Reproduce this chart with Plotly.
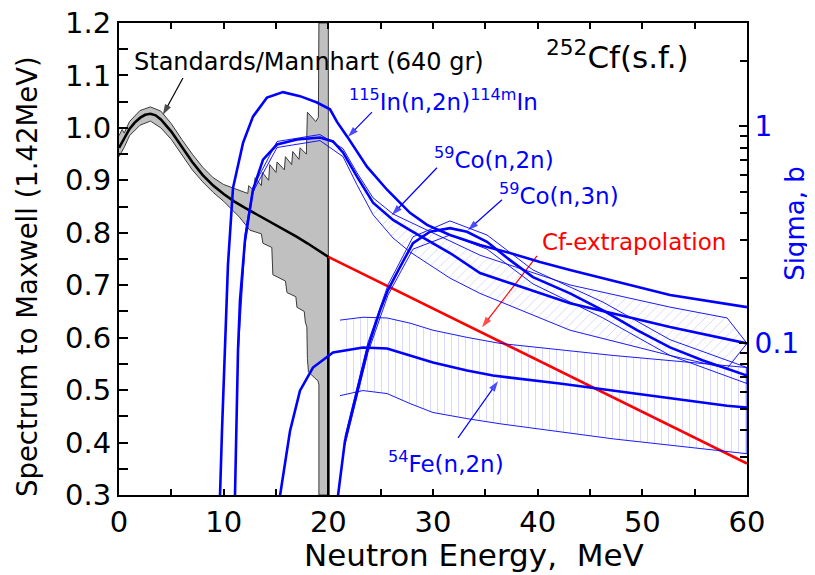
import math
import plotly.graph_objects as go

# ---------------- Spectrum / Maxwell (left axis) ----------------
spec_e = [0, 0.5, 1, 1.5, 2, 2.5, 3, 3.5, 4, 5, 6, 7, 8, 9, 10, 11, 12, 13, 14, 15, 16, 17, 18, 19, 20, 20]
spec_r = [0.962, 0.98, 0.998, 1.01, 1.019, 1.025, 1.027, 1.024, 1.016, 0.993, 0.963, 0.935, 0.91, 0.89,
          0.874, 0.86, 0.848, 0.837, 0.826, 0.815, 0.804, 0.792, 0.78, 0.767, 0.754, 0.3]

band_up_e = [0, 0.3, 0.5, 1, 2, 3, 4, 5, 6, 7, 8, 9, 10, 11, 11.5, 12.0, 12.3, 12.4, 12.9, 13.0, 13.6, 13.7,
             14.3, 14.4, 15.0, 15.1, 15.8, 15.9, 16.5, 16.6, 17.2, 17.3, 17.9, 18.0, 18.5, 18.8, 19.05, 19.1, 20]
band_up_r = [0.985, 0.997, 0.99, 1.012, 1.033, 1.04, 1.032, 1.008, 0.978, 0.95, 0.925, 0.905, 0.892, 0.885,
             0.88, 0.877, 0.875, 0.89, 0.88, 0.905, 0.89, 0.915, 0.9, 0.93, 0.915, 0.935, 0.92, 0.945, 0.93,
             0.955, 0.94, 0.962, 0.95, 1.03, 1.02, 1.012, 1.02, 1.2, 1.2]

band_lo_e = [0, 0.5, 1, 2, 3, 4, 5, 6, 7, 8, 9, 10, 10.6, 11.5, 12.5, 13.6, 13.75, 14.6, 14.7, 15.9, 16.05,
             16.9, 17.0, 17.7, 17.8, 17.95, 18.0, 18.1, 18.7, 19.0, 19.1, 19.1, 20]
band_lo_r = [0.945, 0.963, 0.985, 1.005, 1.013, 1.0, 0.978, 0.948, 0.92, 0.897, 0.877, 0.86, 0.849, 0.83,
             0.805, 0.798, 0.78, 0.772, 0.72, 0.708, 0.686, 0.678, 0.658, 0.65, 0.63, 0.62, 0.56, 0.535,
             0.523, 0.518, 0.51, 0.3, 0.3]

# Cf extrapolation
cfx_e = [20, 60]
cfx_r = [0.754, 0.36]

# ---------------- Cross sections (right axis, barn) ----------------
in_e = [9.55, 9.65, 9.84, 10.13, 10.41, 10.89, 11.85, 12.80, 14.14, 15.67, 17.29, 18.92, 20.16, 20.83, 21.79,
        23.69, 25.61, 27.80, 29.43, 31.62, 34.49, 37.36, 40.22, 43.09, 47.87, 52.64, 60]
in_s = [0.0099, 0.0198, 0.0395, 0.093, 0.23, 0.52, 0.84, 1.11, 1.36, 1.44, 1.38, 1.29, 1.20, 1.05, 0.90,
        0.653, 0.511, 0.400, 0.352, 0.316, 0.284, 0.261, 0.237, 0.218, 0.190, 0.167, 0.147]

co2_e = [10.99, 11.08, 11.27, 11.37, 11.56, 12.04, 12.80, 13.76, 15.10, 17.01, 19.20, 20.45, 21.40, 22.74,
         24.27, 26.18, 27.80, 31.62, 34.49, 43.09, 52.64, 60]
co2_s = [0.0122, 0.0198, 0.0395, 0.093, 0.158, 0.30, 0.511, 0.703, 0.826, 0.871, 0.89, 0.853, 0.759, 0.587,
         0.445, 0.371, 0.333, 0.261, 0.211, 0.153, 0.119, 0.1]
co2_band_e = [11.37, 12.04, 12.80, 15.10, 19.20, 21.40, 22.74, 24.27, 26.18, 27.80, 31.62, 34.49, 43.09,
              52.64, 58.1, 60]
co2_band_hi = [0.100, 0.32, 0.523, 0.853, 0.918, 0.791, 0.612, 0.469, 0.395, 0.363, 0.296, 0.255, 0.186,
               0.147, 0.131, 0.1]
co2_band_lo = [0.087, 0.285, 0.50, 0.80, 0.861, 0.726, 0.538, 0.392, 0.306, 0.264, 0.200, 0.170, 0.115,
               0.088, 0.0766, 0.1]

co3_e = [20.73, 20.92, 21.59, 22.74, 23.79, 24.94, 25.70, 26.85, 28.09, 29.71, 31.62, 33.25, 35.16, 37.36,
         39.55, 43.09, 46.24, 49.49, 52.64, 55.80, 60]
co3_s = [0.0122, 0.0198, 0.0356, 0.0605, 0.0958, 0.142, 0.176, 0.225, 0.290, 0.327, 0.340, 0.327, 0.294,
         0.242, 0.202, 0.170, 0.142, 0.115, 0.0958, 0.0834, 0.0711]
co3_band_e = [21.59, 23.79, 25.70, 28.09, 31.62, 35.16, 39.55, 46.24, 52.64, 60]
co3_band_hi = [0.0371, 0.101, 0.186, 0.310, 0.367, 0.316, 0.218, 0.155, 0.104, 0.0774]
co3_band_lo = [0.034, 0.0908, 0.167, 0.272, 0.316, 0.272, 0.188, 0.131, 0.088, 0.0653]

fe_e = [15.29, 15.38, 16.34, 17.29, 18.53, 19.87, 20.45, 23.31, 25.61, 27.80, 30.0, 33.25, 35.73, 42.1,
        47.2, 58.09, 60]
fe_s = [0.0122, 0.0198, 0.0395, 0.0605, 0.0774, 0.0861, 0.0908, 0.0958, 0.0948, 0.088, 0.0817, 0.075,
        0.0711, 0.0653, 0.0605, 0.0516, 0.0506]
fe_band_e = [21.11, 23.31, 25.61, 27.80, 30.0, 33.25, 36.40, 47.20, 60]
fe_band_hi = [0.128, 0.132, 0.131, 0.124, 0.115, 0.1066, 0.1, 0.088, 0.0774]
fe_band_lo = [0.0574, 0.0606, 0.0587, 0.0528, 0.048, 0.045, 0.0426, 0.0363, 0.031]

x_ticks = [0, 10, 20, 30, 40, 50, 60]
x_minor = [5, 15, 25, 35, 45, 55]
y_ticks = [0.3, 0.4, 0.5, 0.6, 0.7, 0.8, 0.9, 1.0, 1.1, 1.2]
y_minor = [0.35, 0.45, 0.55, 0.65, 0.75, 0.85, 0.95, 1.05, 1.15]
sigma_ticks = [0.1, 1]
sigma_minor = [0.02, 0.03, 0.04, 0.05, 0.06, 0.07, 0.08, 0.09, 0.2, 0.3, 0.4, 0.5, 0.6, 0.7, 0.8, 0.9, 2, 3]

BLUE = "#0000ff"
RED = "#ff0000"
FONT = "DejaVu Sans"

fig = go.Figure()

# grey uncertainty band of the spectrum
fig.add_trace(go.Scatter(
    x=band_up_e + band_lo_e[::-1], y=band_up_r + band_lo_r[::-1],
    mode="lines", fill="toself", fillcolor="#c0c0c0",
    line=dict(color="#3a3a3a", width=1), hoverinfo="skip", yaxis="y"))
# spectrum
fig.add_trace(go.Scatter(x=spec_e, y=spec_r, mode="lines",
                         line=dict(color="black", width=2.6), yaxis="y"))
# extrapolation
fig.add_trace(go.Scatter(x=cfx_e, y=cfx_r, mode="lines",
                         line=dict(color=RED, width=2.6), yaxis="y"))


def band(xe, hi, lo, shape=None):
    kw = dict(x=xe + xe[::-1], y=hi + lo[::-1], mode="lines", yaxis="y2",
              line=dict(color=BLUE, width=0.9), hoverinfo="skip")
    if shape:
        kw.update(fill="toself", fillcolor="rgba(0,0,0,0)",
                  fillpattern=dict(shape=shape, fgcolor="rgba(90,90,255,0.55)",
                                   bgcolor="rgba(0,0,0,0)", size=7, solidity=0.12))
    return go.Scatter(**kw)


fig.add_trace(band(fe_band_e, fe_band_hi, fe_band_lo, "|"))
fig.add_trace(band(co2_band_e, co2_band_hi, co2_band_lo, "/"))
fig.add_trace(band(co3_band_e, co3_band_hi, co3_band_lo))

for xe, ys in [(in_e, in_s), (co2_e, co2_s), (co3_e, co3_s), (fe_e, fe_s)]:
    fig.add_trace(go.Scatter(x=xe, y=ys, mode="lines", yaxis="y2",
                             line=dict(color=BLUE, width=2.6)))


# ---------------- arrows (line + arrow marker) ----------------
def arrow(hx, hy, tx, ty, color):
    fig.add_trace(go.Scatter(x=[tx, hx], y=[ty, hy], mode="lines+markers", yaxis="y",
                             line=dict(color=color, width=1.2),
                             marker=dict(symbol="arrow", size=[0, 11], angleref="previous",
                                         color=color, line=dict(width=0)),
                             hoverinfo="skip"))


arrow(4.20, 1.025, 6.11, 1.095, "black")
arrow(21.88, 0.983, 24.17, 1.030, BLUE)
arrow(26.08, 0.834, 30.38, 0.924, BLUE)
arrow(33.34, 0.805, 36.59, 0.863, BLUE)
arrow(34.68, 0.620, 39.94, 0.756, RED)
arrow(36.21, 0.517, 32.39, 0.409, BLUE)

# ---------------- annotations ----------------
ann = []


def label(x, y, text, color, size):
    ann.append(dict(x=x, y=y, xref="x", yref="y", text=text, showarrow=False,
                    font=dict(family=FONT, size=size, color=color),
                    xanchor="center", yanchor="middle"))


label(18.2, 1.126, "Standards/Mannhart (640 gr)", "black", 24)
label(47.6, 1.139, "<sup>252</sup>Cf(s.f.)", "black", 31)
label(31.05, 1.053, "<sup>115</sup>In(n,2n)<sup>114m</sup>In", BLUE, 23)
label(35.83, 0.943, "<sup>59</sup>Co(n,2n)", BLUE, 23)
label(41.99, 0.874, "<sup>59</sup>Co(n,3n)", BLUE, 23)
label(49.2, 0.782, "Cf-extrapolation", RED, 23)
label(31.24, 0.363, "<sup>54</sup>Fe(n,2n)", BLUE, 23)

# axis titles
ann.append(dict(x=0.565, y=-0.127, xref="paper", yref="paper", text="Neutron Energy,  MeV",
                showarrow=False, font=dict(family=FONT, size=31, color="black"),
                xanchor="center", yanchor="middle"))
ann.append(dict(x=-0.1465, y=0.464, xref="paper", yref="paper", text="Spectrum to Maxwell (1.42MeV)",
                showarrow=False, textangle=-90, font=dict(family=FONT, size=27.5, color="black"),
                xanchor="center", yanchor="middle"))
ann.append(dict(x=1.076, y=0.576, xref="paper", yref="paper", text="Sigma, b",
                showarrow=False, textangle=-90, font=dict(family=FONT, size=26, color=BLUE),
                xanchor="center", yanchor="middle"))

# the page body adds an 8 px offset; margins compensate so the plot area sits at x 119-747, y 23-495
fig.update_layout(
    width=815, height=575,
    margin=dict(l=111, r=76, t=15, b=88, autoexpand=False),
    paper_bgcolor="white", plot_bgcolor="white", showlegend=False,
    font=dict(family=FONT, size=29, color="black"),
    annotations=ann,
    xaxis=dict(range=[0, 60], tickmode="array", tickvals=x_ticks, ticks="inside", ticklen=6,
               tickwidth=1.5, tickcolor="black", showline=True, linewidth=2, linecolor="black",
               mirror="ticks", showgrid=False, zeroline=False, automargin=False,
               ticklabeloverflow="allow",
               tickfont=dict(family=FONT, size=29, color="black"),
               minor=dict(tickmode="array", tickvals=x_minor, ticks="inside", ticklen=6,
                          tickwidth=1.5, tickcolor="black")),
    yaxis=dict(range=[0.3, 1.2], tickmode="array", tickvals=y_ticks, tickformat=".1f",
               ticks="inside", ticklen=9, ticklabeloverflow="allow",
               tickwidth=1.5, tickcolor="black", showline=True, linewidth=2, linecolor="black",
               mirror=False, showgrid=False, zeroline=False, automargin=False,
               tickfont=dict(family=FONT, size=29, color="black"),
               minor=dict(tickmode="array", tickvals=y_minor, ticks="inside", ticklen=9,
                          tickwidth=1.5, tickcolor="black")),
    yaxis2=dict(type="log", range=[math.log10(0.02), math.log10(3)], overlaying="y", side="right",
                anchor="x", tickmode="array", tickvals=sigma_ticks, ticktext=["0.1", "1"],
                ticks="inside", ticklen=8, tickwidth=1.5, tickcolor="black", automargin=False,
                ticklabeloverflow="allow",
                showline=True, linewidth=2, linecolor="black", showgrid=False, zeroline=False,
                tickfont=dict(family=FONT, size=28, color=BLUE),
                minor=dict(tickmode="array", tickvals=sigma_minor, ticks="inside", ticklen=7,
                           tickwidth=1.5, tickcolor="black")),
)

fig.write_html("out.html")
